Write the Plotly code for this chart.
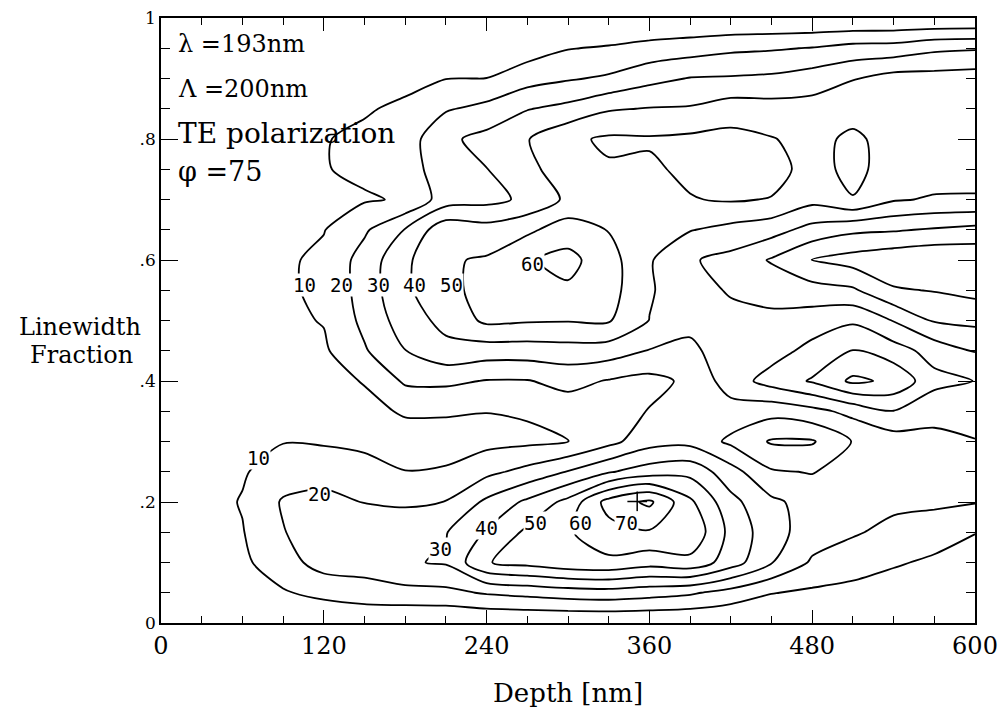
import plotly.graph_objects as go

# ---- grid ----
depth_nm = [0, 30, 60, 90, 120, 150, 180, 210, 240, 270, 300,
            330, 360, 390, 420, 450, 480, 510, 540, 570, 600]
linewidth_fraction = [0.0, 0.05, 0.10, 0.15, 0.20, 0.25, 0.30, 0.35, 0.40, 0.45, 0.50,
                      0.55, 0.60, 0.65, 0.70, 0.75, 0.80, 0.85, 0.90, 0.95, 1.0]

# efficiency (%) along each depth column, from linewidth fraction 0 to 1
eff_000 = [0, 0, 0, 0, 0, 0, 0, 0, 0, 0, 0, 0, 0, 0, 0, 0, 0, 0, 0, 0, 0]
eff_030 = [0, 3, 5, 6, 6, 5, 4, 4, 4, 5, 5, 5, 5, 5, 4, 4, 3, 3, 2, 1, 0]
eff_060 = [0, 5, 8, 9.5, 10.6, 9, 6, 5, 5, 6, 6, 7, 7, 6, 6, 5, 4, 4, 3, 2, 0]
eff_090 = [0, 9, 16, 19.5, 21, 15, 9.6, 7, 7, 7, 8, 8.5, 8.5, 8, 7, 6, 5, 5, 4, 2, 0]
eff_120 = [0, 13, 24, 26, 23, 16, 9, 7, 7, 8.5, 10.5, 12, 12, 9.6, 8, 9.5, 9.5, 5, 4, 2, 0]
eff_150 = [0, 16, 24, 26, 19.7, 12.5, 8.5, 7.5, 10.5, 19, 22.5, 24, 24, 18.5, 9, 12, 12, 9, 5, 3, 0]
eff_180 = [0, 17, 29, 27, 18.5, 10.2, 6, 11, 21.5, 29.8, 35, 38.5, 38, 30.5, 11, 15, 15, 12, 7, 3, 0]
eff_210 = [0, 17.5, 31, 29.5, 20.2, 11, 6, 11, 22, 37, 43, 46, 49, 47, 25, 26, 28, 19, 9.8, 5, 0]
eff_240 = [0, 21, 49.5, 41, 32, 17.5, 7, 10.2, 19.5, 35, 52, 55, 51, 44, 27, 29.8, 33, 23, 10.1, 4, 0]
eff_270 = [0, 23, 53, 52, 42, 23, 8, 11, 19.5, 35, 51, 57, 59, 48, 32, 37, 39.5, 29.5, 16, 5, 0]
eff_300 = [0, 25, 57, 59, 53, 30.5, 9.5, 14.6, 23, 36, 50.5, 58.5, 63, 55, 42, 46, 48, 33, 19, 9.6, 0]
eff_330 = [0, 26, 58, 66, 74, 39, 17, 15, 19.3, 35, 51, 54, 54, 49.6, 47, 49, 51.5, 39, 21.5, 11, 0]
eff_360 = [0, 24, 54, 69, 82, 45, 26, 20.5, 17, 29.5, 39.8, 41, 41, 44, 46, 48.5, 51, 40.5, 27, 13.5, 0]
eff_390 = [0, 21.5, 57, 68, 62, 47, 27, 24, 22, 28, 32.5, 34, 31, 40.5, 49.5, 52, 52, 41, 30.5, 15.5, 0]
eff_420 = [0, 16, 45, 47, 43, 34, 18, 26, 35, 35, 33, 29, 27, 37, 51, 54, 53, 45, 31, 18, 0]
eff_450 = [0, 10.4, 30.5, 34, 32, 21, 9, 23.5, 44, 36, 32, 27, 19, 34, 49.5, 54, 50.5, 44, 32, 19, 0]
eff_480 = [0, 8.3, 18.6, 25, 26, 19.5, 9, 27, 51, 43, 35, 24, 9.5, 26.5, 43, 46, 47, 44, 35, 20.5, 0]
eff_510 = [0, 6.7, 15, 21, 23, 24, 20.5, 33, 62, 50.2, 38.5, 21.5, 6, 22, 49.5, 53, 52, 46, 39.5, 23.5, 0]
eff_540 = [0, 5.5, 11, 17.5, 22, 24, 25, 39.7, 58, 44.5, 29.5, 11, 3, 21, 41, 45, 46, 46, 44, 24, 0]
eff_570 = [0, 4, 8.5, 14, 22, 25, 27.5, 33, 43, 36, 19, 9.5, 1, 19, 39, 45, 45, 46, 44, 28, 0]
eff_600 = [0, 3, 7, 10.2, 20.5, 25, 29.5, 35, 39.8, 29.5, 17.5, 7, 2, 17, 39, 44, 45, 45, 45, 29, 0]

# contour levels
level_start, level_end, level_step = 10, 80, 10

# location of the maximum (cross mark)
peak_x = [351]
peak_y = [0.201]

# in-plot contour labels
label_text = ["10", "20", "30", "40", "50", "60", "10", "20", "30", "40", "50", "60", "70"]
label_x = [106, 133, 160, 187, 214, 274, 71.5, 117, 206, 240, 276, 309, 343]
label_y = [0.558, 0.558, 0.558, 0.558, 0.558, 0.593, 0.272, 0.214, 0.122, 0.157, 0.165, 0.165, 0.165]

# info block
info_lines = ["λ =193nm", "Λ =200nm", "TE polarization", "φ =75"]

# axis ticks
x_ticks = [0, 120, 240, 360, 480, 600]
x_ticktext = ["0", "120", "240", "360", "480", "600"]
y_ticks = [0, 0.2, 0.4, 0.6, 0.8, 1.0]
y_ticktext = ["0", ".2", ".4", ".6", ".8", "1"]

columns = [eff_000, eff_030, eff_060, eff_090, eff_120, eff_150, eff_180, eff_210,
           eff_240, eff_270, eff_300, eff_330, eff_360, eff_390, eff_420, eff_450,
           eff_480, eff_510, eff_540, eff_570, eff_600]
z = [[col[j] for col in columns] for j in range(len(linewidth_fraction))]

SERIF = "DejaVu Serif"

# page body has an 8px margin: figure is sized/margined so the plot box
# lands at x 161..975, y 18..623 of the window
BODY = 8
BOX_L, BOX_T, BOX_R, BOX_B = 161, 18, 975, 623
FIG_W, FIG_H = 990, 705
M_L, M_T = BOX_L - BODY, BOX_T - BODY
PLOT_W, PLOT_H = BOX_R - BOX_L, BOX_B - BOX_T
M_R = FIG_W - M_L - PLOT_W
M_B = FIG_H - M_T - PLOT_H


def py_to_paper(py):
    return (BOX_B - py) / PLOT_H


def px_to_paper(px):
    return (px - BOX_L) / PLOT_W


fig = go.Figure()
fig.add_trace(go.Contour(
    x=depth_nm, y=linewidth_fraction, z=z,
    contours=dict(start=level_start, end=level_end, size=level_step,
                  coloring="lines", showlabels=False),
    colorscale=[[0, "black"], [1, "black"]],
    showscale=False,
    line=dict(width=1.8, smoothing=0.8),
    hoverinfo="skip",
))
fig.add_trace(go.Scatter(
    x=peak_x, y=peak_y, mode="markers",
    marker=dict(symbol="cross-thin", size=14, color="black",
                line=dict(width=1.5, color="black")),
    hoverinfo="skip", showlegend=False,
))

annotations = []
for t, lx, ly in zip(label_text, label_x, label_y):
    annotations.append(dict(
        x=lx, y=ly, xref="x", yref="y", text=t, showarrow=False,
        font=dict(family="DejaVu Sans Mono", size=19, color="black"),
        bgcolor="white", borderpad=0, xanchor="center", yanchor="middle",
    ))

info_py = [44, 89, 134, 172]
info_size = [24, 24, 28, 27]
for t, iy, fs in zip(info_lines, info_py, info_size):
    annotations.append(dict(
        x=px_to_paper(176), y=py_to_paper(iy), xref="paper", yref="paper",
        text=t, showarrow=False,
        font=dict(family=SERIF, size=fs, color="black"),
        xanchor="left", yanchor="middle",
    ))

annotations.append(dict(
    x=px_to_paper(568), y=py_to_paper(693), xref="paper", yref="paper",
    text="Depth [nm]", showarrow=False,
    font=dict(family=SERIF, size=26, color="black"),
    xanchor="center", yanchor="middle",
))
annotations.append(dict(
    x=px_to_paper(80), y=py_to_paper(327), xref="paper", yref="paper",
    text="Linewidth", showarrow=False,
    font=dict(family=SERIF, size=24, color="black"),
    xanchor="center", yanchor="middle",
))
annotations.append(dict(
    x=px_to_paper(81), y=py_to_paper(355), xref="paper", yref="paper",
    text="Fraction", showarrow=False,
    font=dict(family=SERIF, size=24, color="black"),
    xanchor="center", yanchor="middle",
))

fig.update_layout(
    width=FIG_W, height=FIG_H,
    margin=dict(l=M_L, r=M_R, t=M_T, b=M_B, autoexpand=False),
    paper_bgcolor="white", plot_bgcolor="white",
    showlegend=False,
    annotations=annotations,
    xaxis=dict(
        range=[0, 600], tickmode="array", tickvals=x_ticks, ticktext=x_ticktext,
        ticks="inside", ticklen=13, tickwidth=1.3, tickcolor="black",
        minor=dict(dtick=30, ticklen=7, tickwidth=1.1, ticks="inside", tickcolor="black"),
        showline=True, linecolor="black", linewidth=1.6, mirror="ticks",
        showgrid=False, zeroline=False, automargin=False,
        ticklabeloverflow="allow",
        tickfont=dict(family=SERIF, size=24, color="black"),
    ),
    yaxis=dict(
        range=[0, 1], tickmode="array", tickvals=y_ticks, ticktext=y_ticktext,
        ticks="inside", ticklen=17, tickwidth=1.3, tickcolor="black",
        minor=dict(dtick=0.05, ticklen=9, tickwidth=1.1, ticks="inside", tickcolor="black"),
        showline=True, linecolor="black", linewidth=1.6, mirror="ticks",
        showgrid=False, zeroline=False, automargin=False,
        ticklabeloverflow="allow",
        tickfont=dict(family=SERIF, size=17, color="black"),
    ),
)

fig.write_html("out.html")
